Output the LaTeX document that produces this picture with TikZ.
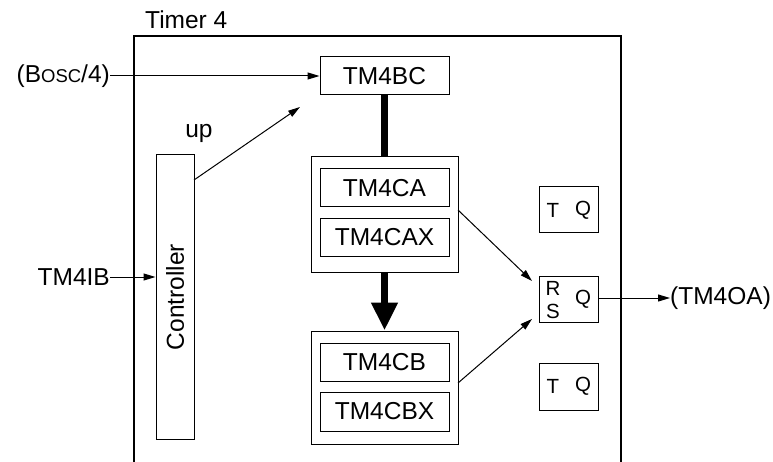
\documentclass[tikz,border=0pt]{standalone}
\usepackage{fontspec}
\setmainfont{Liberation Sans}
\usetikzlibrary{arrows.meta}
\begin{document}
\begin{tikzpicture}[x=1pt,y=-1pt,
  every node/.style={font=\fontsize{24.5}{29}\selectfont, inner sep=0pt},
  blk/.style={draw, line width=1pt, minimum width=129pt, minimum height=38pt},
  grp/.style={draw, line width=1pt, minimum width=147pt},
  ff/.style={draw, line width=1pt, minimum width=59pt, minimum height=46pt},
  small/.style={font=\fontsize{20.5}{22}\selectfont},
  sig/.style={line width=1pt, -{Triangle[length=12pt,width=7pt]}},
  bus/.style={line width=7pt}
]
\useasboundingbox (0,0) rectangle (773,462);
% outer timer box (open at bottom)
\draw[line width=1.2pt] (134,462) |- (621,36) -- (621,462);
\node[anchor=west] (timer) at (145,20) {Timer 4};

% counter blocks
\node[blk] (bc) at (384.5,76) {TM4BC};
\node[grp, minimum height=115pt] (ga) at (384.5,214.5) {};
\node[blk] (ca) at (384.5,188) {TM4CA};
\node[blk] (cax) at (384.5,237.5) {TM4CAX};
\node[grp, minimum height=113pt] (gb) at (384.5,387.5) {};
\node[blk] (cb) at (384.5,362) {TM4CB};
\node[blk, minimum height=39pt] (cbx) at (384.5,411.5) {TM4CBX};

% controller
\node[draw, line width=1pt, minimum width=38pt, minimum height=284pt] (ctrl) at (175,297) {};
\node[rotate=90] (ctrltxt) at (ctrl.center) {Controller};
\node (up) at (199,133) {up};

% flip-flops
\node[ff] (tq1) at (568.5,210) {};
\node[small] (tq1t) at (553,210) {T};
\node[small] (tq1q) at (583,210) {Q};
\node[ff] (rs) at (568.5,299) {};
\node[small] (rsr) at (553,288) {R};
\node[small] (rss) at (553,311) {S};
\node[small] (rsq) at (583,299) {Q};
\node[ff, minimum height=47pt] (tq2) at (568.5,386.5) {};
\node[small] (tq2t) at (553,386.5) {T};
\node[small] (tq2q) at (583,386.5) {Q};

% external signals
\node[anchor=east] (bosc) at (110,76) {(B{\fontsize{18.5}{20}\selectfont OSC}/4)};
\node[anchor=east] (ib) at (110,277) {TM4IB};
\node[anchor=west] (out) at (670,298) {(TM4OA)};

% coordinates
\coordinate (upend) at (300,107);
\coordinate (upstart) at (194,180);
\coordinate (rsA) at (532,281);
\coordinate (rsB) at (532,319);
\coordinate (gaout) at (458,210);
\coordinate (gbout) at (458,383);

% connectors
\draw[sig] (bosc.east) -- (bc.west);
\draw[sig] (ib.east) -- (ib.east -| ctrl.west);
\draw[sig] (upstart) -- (upend);
\draw[bus] (bc.south) -- (ga.north);
\draw[bus, -{Triangle[length=28pt,width=25pt]}] (ga.south) -- (gb.north);
\draw[sig] (gaout) -- (rsA);
\draw[sig] (gbout) -- (rsB);
\draw[sig] (rs.east |- out.west) -- (out.west);
\end{tikzpicture}
\end{document}
